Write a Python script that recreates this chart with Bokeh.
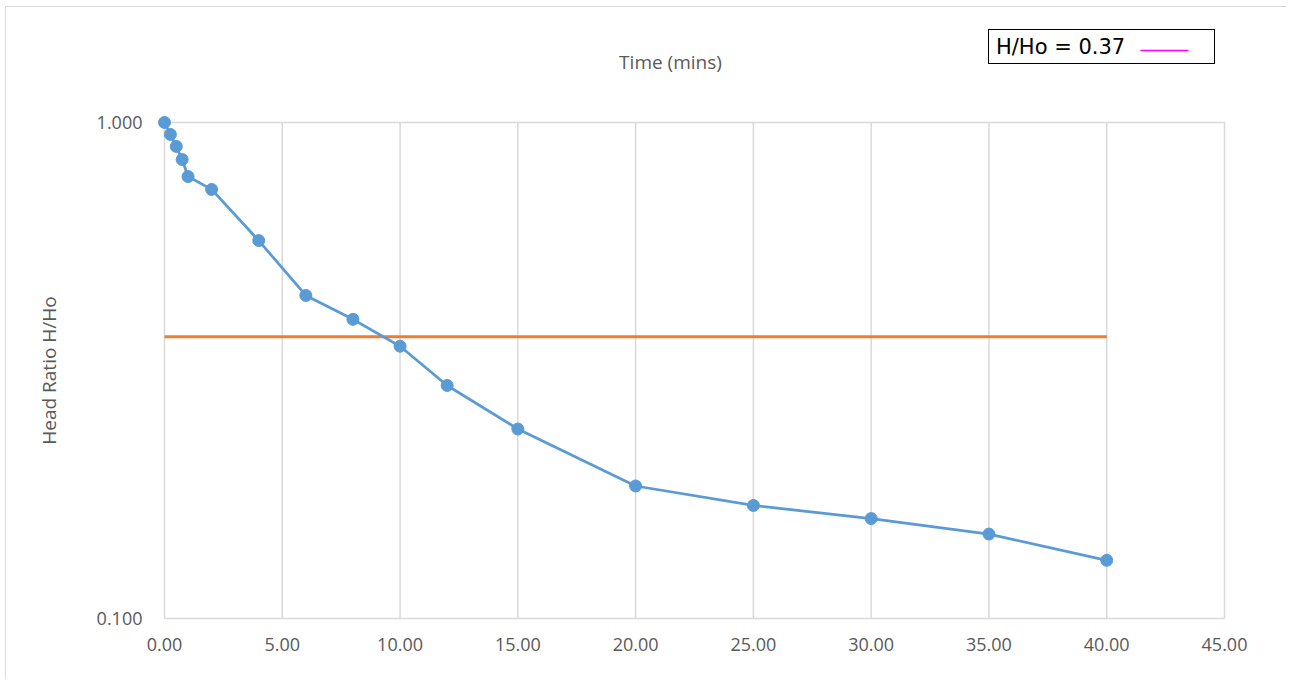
from bokeh.plotting import figure
from bokeh.layouts import column
from bokeh.models import (Range1d, FixedTicker, NumeralTickFormatter, Label,
                          Legend, LegendItem, ColumnDataSource)
from bokeh.embed import file_html
from bokeh.resources import INLINE

# ---- data ----
time_mins = [0, 0.25, 0.5, 0.75, 1, 2, 4, 6, 8, 10, 12, 15, 20, 25, 30, 35, 40]
head_ratio = [1.0, 0.946, 0.895, 0.842, 0.778, 0.733, 0.578, 0.448, 0.401, 0.354,
              0.295, 0.241, 0.185, 0.169, 0.159, 0.148, 0.131]
ref_x = [0, 40]
ref_y = [0.37, 0.37]
x_ticks = [0, 5, 10, 15, 20, 25, 30, 35, 40, 45]
y_ticks = [0.1, 1.0]
legend_label = "H/Ho = 0.37"
x_title = "Time (mins)"
y_title = "Head Ratio H/Ho"

BLUE = "#5B9BD5"
ORANGE = "#ED7D31"
MAGENTA = "#FF00FF"
GRID = "#D9D9D9"
TXT = "#595959"
FONT = "Open Sans"

W = 1280
HT = 75          # header strip (title + legend)
HM = 597         # main chart
BL, BR = 150, 54  # left / right borders shared by both parts

# ---------------- header strip ----------------
top = figure(width=W, height=HT, x_range=Range1d(BL, W - BR), y_range=Range1d(HT, 0),
             x_axis_type=None, y_axis_type=None, output_backend="svg",
             toolbar_location=None, min_border_left=BL, min_border_right=BR,
             min_border_top=0, min_border_bottom=0)
top.outline_line_color = None
top.grid.visible = False
top.background_fill_color = "white"
top.border_fill_color = "white"

top.add_layout(Label(x=664, y=54, text=x_title, text_font=FONT,
                     text_font_size="19px", text_color=TXT,
                     text_align="center", text_baseline="middle"))

# legend key (magenta line) shown to the right of the legend text
top.segment(x0=[1134], y0=[43], x1=[1182], y1=[43],
            line_color=MAGENTA, line_width=1.5)
dummy_txt = top.line([], [], line_color=ORANGE, line_alpha=0)
leg_text = Legend(items=[LegendItem(label=legend_label, renderers=[dummy_txt])],
                  location=(832, HT - 57), glyph_width=0, glyph_height=25,
                  label_standoff=3, label_width=214, label_height=25,
                  padding=4, margin=0, spacing=0,
                  label_text_font="DejaVu Sans", label_text_font_size="21px",
                  label_text_color="black",
                  border_line_color="black", border_line_width=1.5,
                  border_line_alpha=1.0, background_fill_alpha=0.0)
top.add_layout(leg_text)

# ---------------- main chart ----------------
# small padding so that markers on the frame edge are not clipped
PADX = 45 / 1060 * 8
PADY = 10 ** (8 / 496)

p = figure(width=W, height=HM, y_axis_type="log",
           x_range=Range1d(x_ticks[0] - PADX, x_ticks[-1] + PADX),
           y_range=Range1d(y_ticks[0] / PADY, y_ticks[-1] * PADY),
           output_backend="svg", toolbar_location=None,
           min_border_left=BL, min_border_right=BR,
           min_border_top=32, min_border_bottom=53)
p.outline_line_color = None
p.background_fill_color = "white"
p.border_fill_color = "white"
p.grid.visible = False

p.xaxis.ticker = FixedTicker(ticks=x_ticks)
p.xaxis.formatter = NumeralTickFormatter(format="0.00")
p.yaxis.ticker = FixedTicker(ticks=y_ticks)
p.yaxis.formatter = NumeralTickFormatter(format="0.000")
for ax in (p.xaxis[0], p.yaxis[0]):
    ax.axis_line_color = None
    ax.major_tick_line_color = None
    ax.minor_tick_line_color = None
    ax.major_label_text_font = FONT
    ax.major_label_text_font_size = "18px"
    ax.major_label_text_color = TXT
p.xaxis.major_label_standoff = 5
p.yaxis.major_label_standoff = 8
p.yaxis.axis_label = y_title
p.yaxis.axis_label_text_font = FONT
p.yaxis.axis_label_text_font_size = "19px"
p.yaxis.axis_label_text_font_style = "normal"
p.yaxis.axis_label_text_color = TXT
p.yaxis.axis_label_standoff = 32

# plot-area grid / frame lines (drawn between the tick limits)
n = len(x_ticks)
p.segment(x0=x_ticks, y0=[y_ticks[0]] * n, x1=x_ticks, y1=[y_ticks[-1]] * n,
          line_color=GRID, line_width=1.5)
m = len(y_ticks)
p.segment(x0=[x_ticks[0]] * m, y0=y_ticks, x1=[x_ticks[-1]] * m, y1=y_ticks,
          line_color=GRID, line_width=1.5)

src = ColumnDataSource(dict(x=time_mins, y=head_ratio))
p.line(ref_x, ref_y, line_color=ORANGE, line_width=3)
p.line("x", "y", source=src, line_color=BLUE, line_width=2.75)
p.scatter("x", "y", source=src, size=12, fill_color=BLUE, line_color=BLUE)

layout = column(top, p, spacing=0,
                styles={"border-top": "1px solid #D9D9D9",
                        "border-left": "1px solid #D9D9D9",
                        "margin-left": "5px", "margin-top": "6px"})

open("out.html", "w").write(file_html(layout, INLINE))
